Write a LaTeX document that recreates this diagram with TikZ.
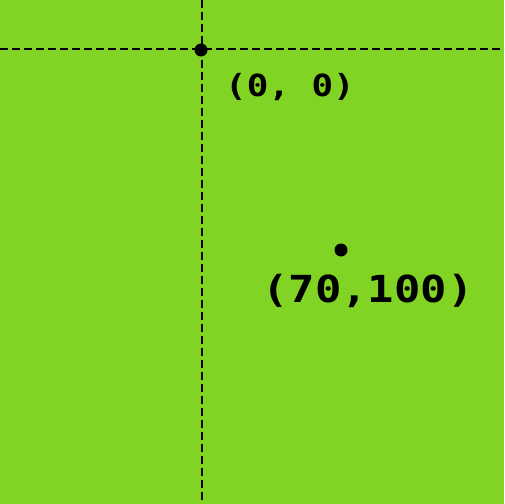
\documentclass[tikz,border=0pt]{standalone}
\usepackage{fontspec}
\setmonofont{DejaVu Sans Mono}
\definecolor{bggreen}{RGB}{129,211,36}
\begin{document}
\begin{tikzpicture}[x=1bp,y=-1bp,
  guide/.style={black,line width=1.6bp,dash pattern=on 8bp off 4bp},
  pt/.style={circle,fill=black,inner sep=0pt,minimum size=13bp},
  lbl/.style={inner sep=0pt,font=\ttfamily\bfseries,yscale=0.85}]
\fill[bggreen] (0,0) rectangle (504,504);
\useasboundingbox (0,0) rectangle (504,504);
\coordinate (vt) at (202,0);
\coordinate (vb) at (202,504);
\coordinate (hl) at (0,49);
\coordinate (hr) at (504,49);
\draw[guide] (vt) -- (vb);
\draw[guide] (hl) -- (hr);
\node[pt] (o) at (201,50) {};
\node[pt] (p) at (341,250) {};
\node[lbl,font=\ttfamily\bfseries\fontsize{36}{36}\selectfont] (lo) at (290,87) {(0, 0)};
\node[lbl,font=\ttfamily\bfseries\fontsize{44}{44}\selectfont] (lp) at (368,291) {(70,100)};
\end{tikzpicture}
\end{document}
